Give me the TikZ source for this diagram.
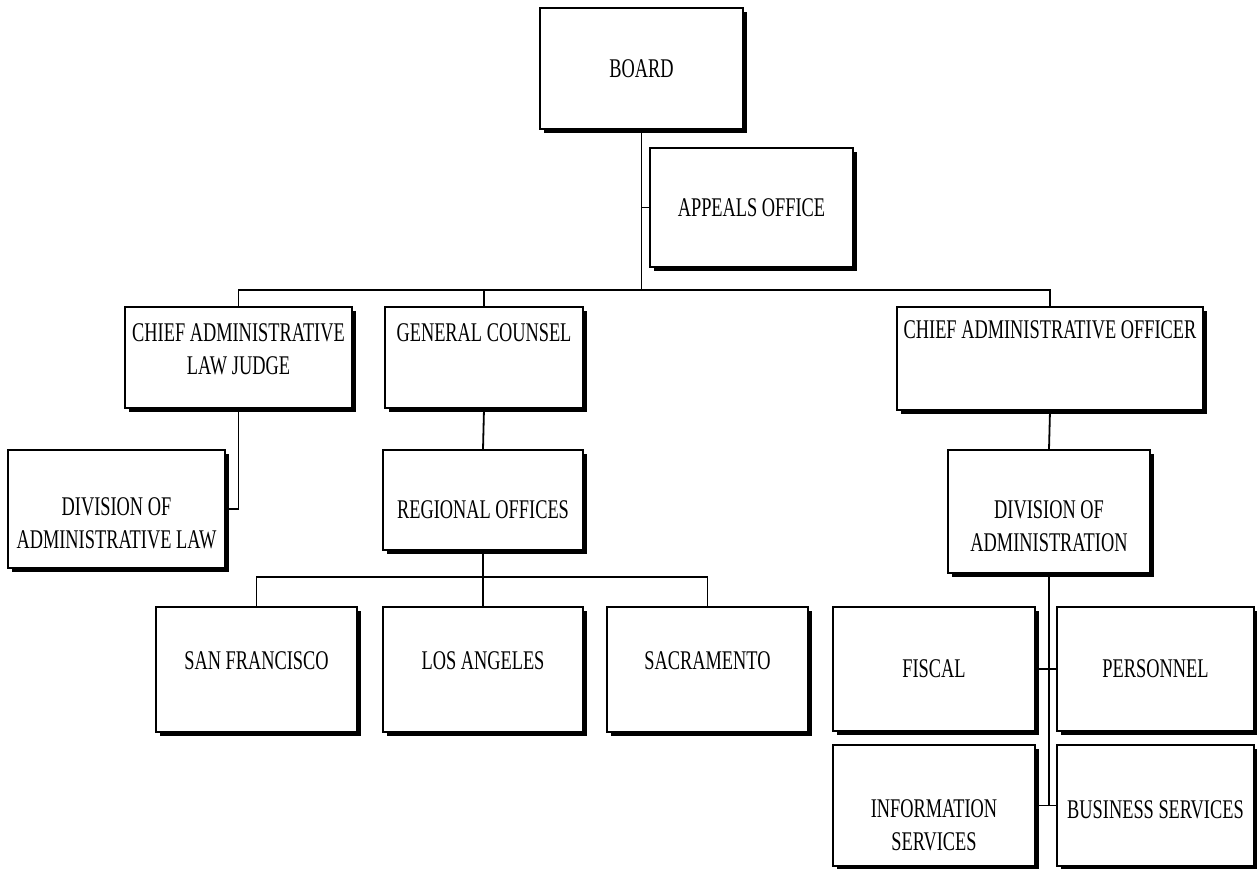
\documentclass[tikz,border=0pt]{standalone}
\usepackage{fontspec}
\setmainfont{Liberation Serif}[FakeStretch=0.68]
\usetikzlibrary{calc,shadows}
\tikzset{
  office/.style 2 args={draw=black,line width=1.3pt,fill=white,inner sep=0pt,
    minimum width=#1pt,minimum height=#2pt,
    drop shadow={shadow xshift=4pt,shadow yshift=-4pt,fill=black,opacity=1}},
  lbl/.style={font=\fontsize{27}{33}\selectfont,align=center,inner sep=0pt},
  conn/.style={draw=black,line width=1.8pt},
}

\begin{document}
\begin{tikzpicture}[x=1pt,y=-1pt]
  \useasboundingbox (0,0) rectangle (1257,868);
  % boxes
  \node[office={203}{121}] (board)     at (641.5,68.5) {};
  \node[office={203}{119}] (appeals)   at (751.5,207.5) {};
  \node[office={227}{101}] (calj)      at (238.5,357.5) {};
  \node[office={198}{101}] (gc)        at (484,357.5) {};
  \node[office={306}{103}] (cao)       at (1050,358.5) {};
  \node[office={217}{118}] (doal)      at (116.5,509) {};
  \node[office={200}{100}] (ro)        at (483,500) {};
  \node[office={202}{123}] (doa)       at (1049,511.5) {};
  \node[office={201}{125}] (sf)        at (256.5,669.5) {};
  \node[office={200}{125}] (la)        at (483,669.5) {};
  \node[office={201}{125}] (sac)       at (707.5,669.5) {};
  \node[office={202}{124}] (fiscal)    at (934,669) {};
  \node[office={197}{124}] (personnel) at (1155.5,669) {};
  \node[office={202}{121}] (info)      at (934,805.5) {};
  \node[office={197}{121}] (business)  at (1155.5,805.5) {};
  % texts
  \node[lbl] (board-t)     at (board.center) {BOARD};
  \node[lbl] (appeals-t)   at (appeals.center) {APPEALS OFFICE};
  \node[lbl] (calj-t)      at ([yshift=8pt]calj.center) {CHIEF ADMINISTRATIVE\\LAW JUDGE};
  \node[lbl] (gc-t)        at ([yshift=25pt]gc.center) {GENERAL COUNSEL};
  \node[lbl] (cao-t)       at ([yshift=29pt]cao.center) {CHIEF ADMINISTRATIVE OFFICER};
  \node[lbl] (doal-t)      at ([yshift=-14pt]doal.center) {DIVISION OF\\ADMINISTRATIVE LAW};
  \node[lbl] (ro-t)        at ([yshift=-10pt]ro.center) {REGIONAL OFFICES};
  \node[lbl] (doa-t)       at ([yshift=-15pt]doa.center) {DIVISION OF\\ADMINISTRATION};
  \node[lbl] (sf-t)        at ([yshift=9pt]sf.center) {SAN FRANCISCO};
  \node[lbl] (la-t)        at ([yshift=9pt]la.center) {LOS ANGELES};
  \node[lbl] (sac-t)       at ([yshift=9pt]sac.center) {SACRAMENTO};
  \node[lbl] (fiscal-t)    at (fiscal.center) {FISCAL};
  \node[lbl] (personnel-t) at (personnel.center) {PERSONNEL};
  \node[lbl] (info-t)      at ([yshift=-20pt]info.center) {INFORMATION\\SERVICES};
  \node[lbl] (business-t)  at ([yshift=-4pt]business.center) {BUSINESS SERVICES};
  % connectors
  \coordinate (bar) at (640,290);
  \coordinate (bar2) at (483,577);
  \draw[conn] (board.south) -- (board.south |- bar);
  \draw[conn] (appeals.west) -- (appeals.west -| board.south);
  \draw[conn] (calj.north) |- (bar) -| (cao.north);
  \draw[conn] (gc.north) -- (gc.north |- bar);
  \draw[conn] (calj.south) |- (doal.east);
  \draw[conn] (gc.south) -- (ro.north);
  \draw[conn] (sf.north) |- (bar2) -| (sac.north);
  \draw[conn] (ro.south) -- (la.north);
  \draw[conn] (cao.south) -- (doa.north);
  \draw[conn] (doa.south) -- (doa.south |- info.east);
  \draw[conn] (fiscal.east) -- (personnel.west);
  \draw[conn] (info.east) -- (business.west);
\end{tikzpicture}
\end{document}
